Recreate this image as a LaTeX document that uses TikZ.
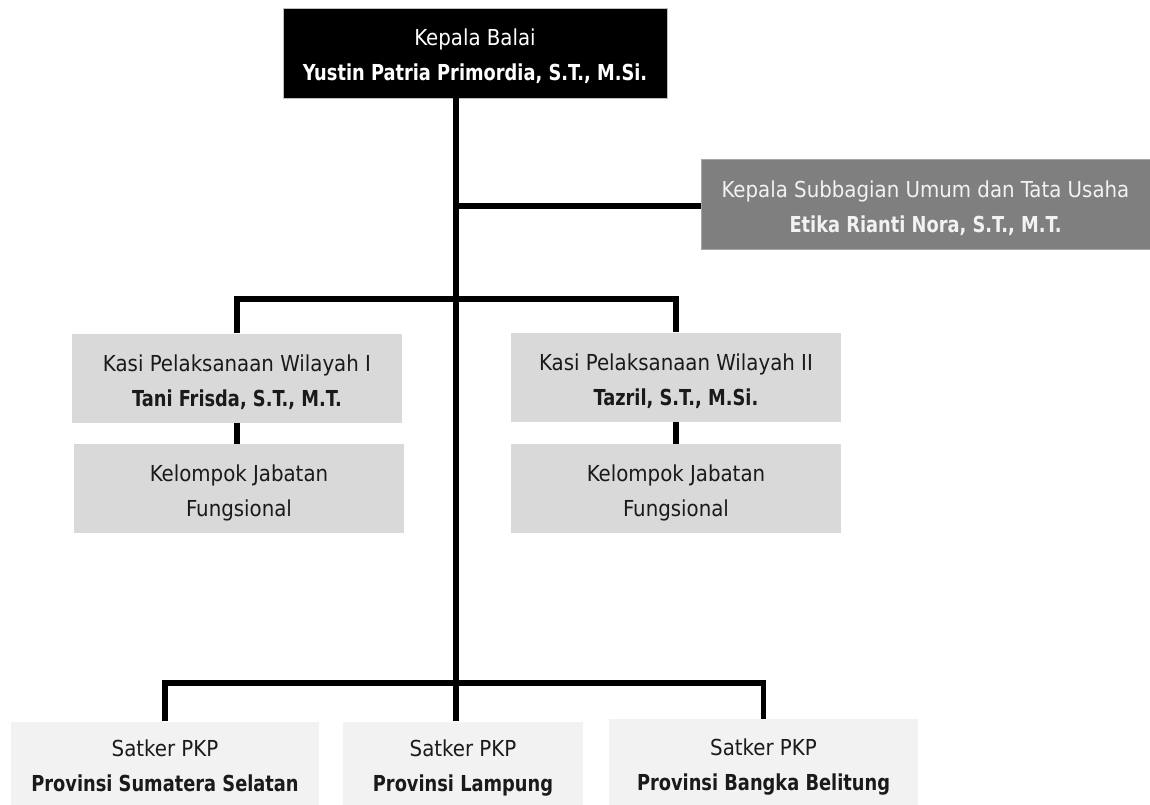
\documentclass[tikz,border=0pt]{standalone}
\usepackage{fontspec}
\setmainfont{DejaVu Sans Condensed}[BoldFeatures={FakeStretch=0.9}]
\definecolor{subgray}{HTML}{7F7F7F}
\definecolor{kasigray}{HTML}{D9D9D9}
\definecolor{satkergray}{HTML}{F2F2F2}
\definecolor{inkgray}{HTML}{1A1A1A}
\begin{document}
\begin{tikzpicture}[x=1pt,y=-1pt,
	box_node/.style={rectangle,inner sep=0pt,align=center,font=\fontsize{22}{35}\selectfont,text height=60pt,text depth=4pt},
	head_node/.style={box_node,fill=black,draw=gray!50,text=white,minimum width=384pt,minimum height=90pt},
	staff_node/.style={box_node,fill=subgray,draw=gray!70,text=satkergray,minimum width=449pt,minimum height=90pt},
	kasi_node/.style={box_node,fill=kasigray,text=inkgray,minimum width=330pt,minimum height=89pt},
	satker_node/.style={box_node,fill=satkergray,text=inkgray,minimum height=84pt},
	link/.style={line width=5.5pt}]
		
		\useasboundingbox (0,0) rectangle (1150,805);
		
		\node[head_node] (kepala) at (475,53) {Kepala Balai\\\textbf{Yustin Patria Primordia, S.T., M.Si.}};
		\node[staff_node] (subbag) at (925.5,204) {Kepala Subbagian Umum dan Tata Usaha\\\textbf{Etika Rianti Nora, S.T., M.T.}};
		\node[kasi_node] (kasi1) at (237,378) {Kasi Pelaksanaan Wilayah I\\\textbf{Tani Frisda, S.T., M.T.}};
		\node[kasi_node] (fung1) at (239,488.5) {Kelompok Jabatan\\Fungsional};
		\node[kasi_node] (kasi2) at (676,377) {Kasi Pelaksanaan Wilayah II\\\textbf{Tazril, S.T., M.Si.}};
		\node[kasi_node] (fung2) at (676,488.5) {Kelompok Jabatan\\Fungsional};
		\node[satker_node,minimum width=308pt] (satker1) at (165,763.5) {Satker PKP\\\textbf{Provinsi Sumatera Selatan}};
		\node[satker_node,minimum width=240pt] (satker2) at (463,763.5) {Satker PKP\\\textbf{Provinsi Lampung}};
		\node[satker_node,minimum width=309pt,minimum height=86pt] (satker3) at (763.5,762) {Satker PKP\\\textbf{Provinsi Bangka Belitung}};
		
		\coordinate (trunk) at (456,206);
		\coordinate (jkasi) at (456,299);
		\coordinate (jsatker) at (456,683);
		
		\draw[link] (kepala.south -| trunk) -- (satker2.north -| trunk);
		\draw[link] (trunk) -- (trunk -| subbag.west);
		\draw[link] (kasi1.north) |- (jkasi) -| (kasi2.north);
		\draw[link] (kasi1.south) -- (kasi1.south |- fung1.north);
		\draw[link] (kasi2.south) -- (kasi2.south |- fung2.north);
		\draw[link] (satker1.north) |- (jsatker) -| (satker3.north);
		\end{tikzpicture}
\end{document}
